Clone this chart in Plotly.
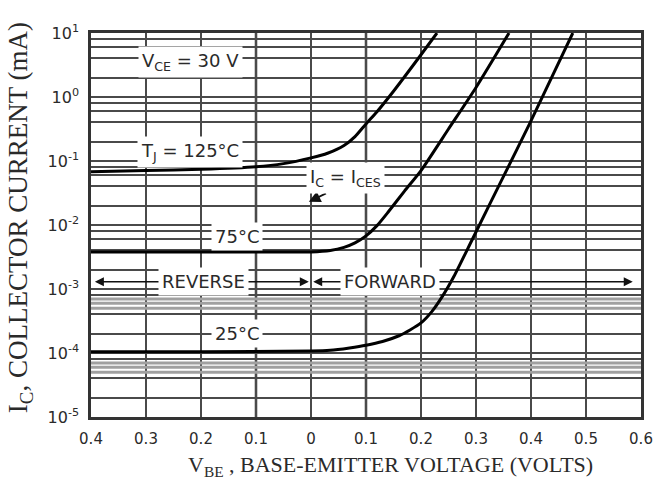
import numpy as np
import plotly.graph_objects as go

# ---- data ----
v_125 = [-0.4, -0.3, -0.2, -0.1, -0.05, 0.0, 0.03, 0.06, 0.08, 0.1, 0.12, 0.15, 0.2, 0.229]
i_125 = [0.068, 0.071, 0.074, 0.081, 0.091, 0.112, 0.132, 0.174, 0.24, 0.38, 0.589, 1.23, 4.57, 10.0]

v_75 = [-0.4, -0.2, 0.0, 0.035, 0.06, 0.08, 0.1, 0.12, 0.14, 0.17, 0.2, 0.25, 0.3, 0.36]
i_75 = [0.0038, 0.0038, 0.0038, 0.0040, 0.00447, 0.00525, 0.00676, 0.00977, 0.0158, 0.0339,
        0.0708, 0.316, 1.41, 10.0]

v_25 = [-0.4, -0.2, 0.0, 0.035, 0.07, 0.1, 0.13, 0.16, 0.18, 0.2, 0.22, 0.24, 0.26, 0.293,
        0.35, 0.398, 0.476]
i_25 = [1.05e-4, 1.05e-4, 1.07e-4, 1.1e-4, 1.2e-4, 1.32e-4, 1.51e-4, 1.86e-4, 2.29e-4, 2.95e-4,
        4.47e-4, 7.94e-4, 1.58e-3, 5.89e-3, 0.0575, 0.39, 10.0]

x_tickvals = [-0.4, -0.3, -0.2, -0.1, 0.0, 0.1, 0.2, 0.3, 0.4, 0.5, 0.6]
x_ticktext = ["0.4", "0.3", "0.2", "0.1", "0", "0.1", "0.2", "0.3", "0.4", "0.5", "0.6"]
y_exponents = [-5, -4, -3, -2, -1, 0, 1]

x_title = "V<sub>BE</sub> , BASE-EMITTER VOLTAGE (VOLTS)"
y_title = "I<sub>C</sub>, COLLECTOR CURRENT (mA)"

# grid styling values
minor_mult = [2, 4, 6, 8]
gray_decades = [-5, -4]
gray_mult = [5, 6, 7]
gray_vlines = [-0.1, 0.1]

GRID = "#4a4a4a"
TXT = "#2a2a2a"
SANS = "DejaVu Sans"
SERIF = "Liberation Serif"

fig = go.Figure()

# light-gray horizontal grid bands
gx, gy = [], []
for d in gray_decades:
    for m in gray_mult:
        gx += [-0.4, 0.6, None]
        gy += [m * 10.0 ** d, m * 10.0 ** d, None]
fig.add_trace(go.Scatter(x=gx, y=gy, mode="lines", line=dict(color="#a0a0a0", width=3),
                         hoverinfo="skip", showlegend=False))

for v, i in [(v_125, i_125), (v_75, i_75), (v_25, i_25)]:
    fig.add_trace(go.Scatter(x=v, y=i, mode="lines",
                             line=dict(color="black", width=3, shape="spline", smoothing=0.6),
                             showlegend=False, hoverinfo="skip"))

minor_vals = [m * 10.0 ** d for d in y_exponents[:-1] for m in minor_mult]

fig.update_xaxes(range=[-0.4, 0.6], tickvals=x_tickvals, ticktext=x_ticktext,
                 showgrid=True, gridcolor=GRID, gridwidth=1.5, automargin=False,
                 showline=True, linecolor="#333", linewidth=2.5, mirror=True,
                 zeroline=False, ticks="", ticklabelstandoff=6,
                 tickfont=dict(family=SANS, size=15, color=TXT))
fig.update_yaxes(type="log", range=[-5, 1],
                 tickvals=[10.0 ** e for e in y_exponents],
                 ticktext=["10<sup>%d</sup>" % e for e in y_exponents],
                 showgrid=True, gridcolor=GRID, gridwidth=1.5, automargin=False,
                 minor=dict(tickvals=minor_vals, showgrid=True, gridcolor=GRID, gridwidth=1.5, ticks=""),
                 showline=True, linecolor="#333", linewidth=2.5, mirror=True,
                 zeroline=False, ticks="", ticklabelstandoff=6,
                 tickfont=dict(family=SANS, size=16, color=TXT))

for xv in gray_vlines:
    fig.add_shape(type="line", xref="x", yref="paper", x0=xv, x1=xv, y0=0, y1=1,
                  line=dict(color="#9a9a9a", width=3), layer="between")

# axis titles as paper annotations (placed as in the reference)
fig.add_annotation(text=x_title, xref="paper", yref="paper", x=0.545, y=-0.128,
                   xanchor="center", yanchor="middle", showarrow=False,
                   font=dict(family=SERIF, size=22, color=TXT))
fig.add_annotation(text=y_title, xref="paper", yref="paper", x=-0.129, y=0.518,
                   xanchor="center", yanchor="middle", showarrow=False, textangle=-90,
                   font=dict(family=SERIF, size=27, color=TXT))

L = np.log10
arrow_y = L(1.3e-3)
arrows = [(-0.393, -0.2), (-0.004, -0.2), (0.004, 0.15), (0.585, 0.15)]
for tip, tail in arrows:
    fig.add_annotation(x=tip, y=arrow_y, ax=tail, ay=arrow_y, axref="x", ayref="y",
                       xref="x", yref="y", text="", showarrow=True,
                       arrowhead=2, arrowsize=1.2, arrowwidth=1.5, arrowcolor="#111")
fig.add_annotation(x=-0.004, y=L(0.023), ax=0.03, ay=L(0.032), axref="x", ayref="y",
                   xref="x", yref="y", text="", showarrow=True,
                   arrowhead=2, arrowsize=1.3, arrowwidth=1.8, arrowcolor="#111")

labels = [
    ("V<sub>CE</sub> = 30 V", -0.22, 3.5),
    ("T<sub>J</sub> = 125°C", -0.22, 0.138),
    ("I<sub>C</sub> = I<sub>CES</sub>", 0.062, 0.054),
    ("75°C", -0.135, 6.5e-3),
    ("REVERSE", -0.196, 1.3e-3),
    ("FORWARD", 0.144, 1.3e-3),
    ("25°C", -0.135, 2.05e-4),
]
for t, xv, yv in labels:
    fig.add_annotation(x=xv, y=L(yv), xref="x", yref="y", text=t, showarrow=False,
                       bgcolor="white", borderpad=3,
                       font=dict(family=SANS, size=18, color=TXT))

fig.update_layout(width=657, height=479, margin=dict(l=91, r=16, t=33, b=62),
                  plot_bgcolor="white", paper_bgcolor="white")

fig.write_html("out.html", config={"displayModeBar": False},
               post_script="document.body.style.margin='0';document.body.style.overflow='hidden';")
